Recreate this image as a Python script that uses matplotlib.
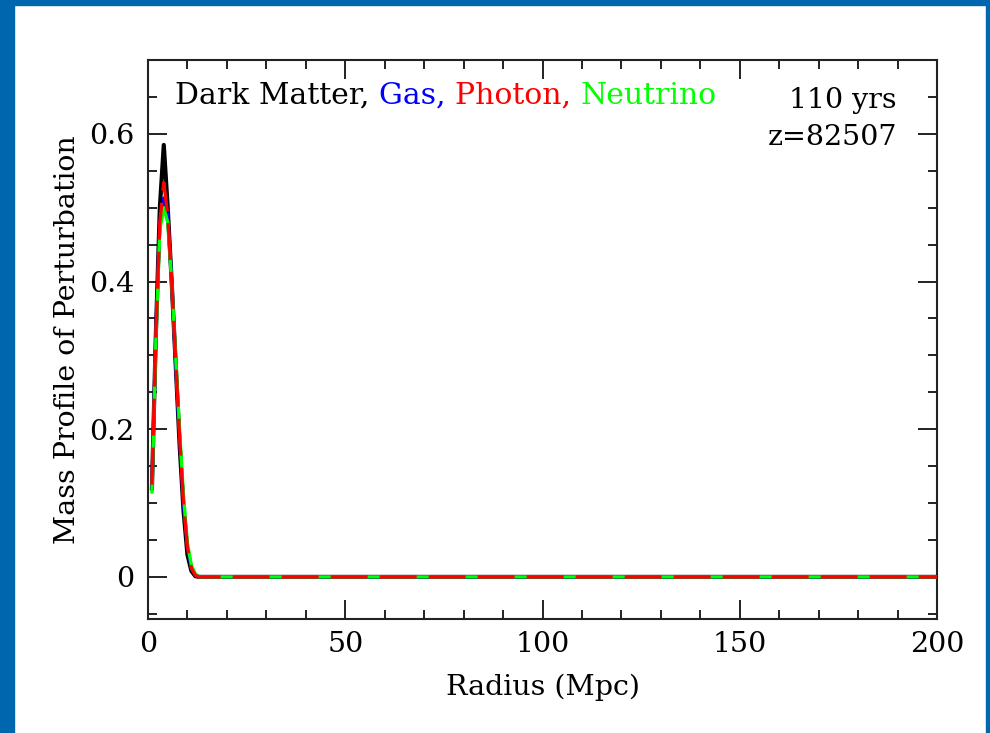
import matplotlib
matplotlib.use("Agg")
import matplotlib.pyplot as plt
from matplotlib.patches import Rectangle
from matplotlib.ticker import MultipleLocator

plt.rcParams['font.family'] = ['DejaVu Serif']

# Radius samples (Mpc)
radius = [1, 2, 3, 4, 5, 6, 7, 8, 9, 10, 11, 12, 13, 14, 200]
dark_matter = [0.12, 0.33, 0.50, 0.585, 0.50, 0.40, 0.29, 0.18, 0.09, 0.03, 0.008, 0.001, 0.0, 0.0, 0.0]
gas         = [0.12, 0.33, 0.48, 0.513, 0.49, 0.40, 0.29, 0.19, 0.10, 0.04, 0.012, 0.002, 0.0, 0.0, 0.0]
photon      = [0.125, 0.33, 0.48, 0.534, 0.49, 0.40, 0.295, 0.19, 0.10, 0.04, 0.012, 0.002, 0.0, 0.0, 0.0]
neutrino    = [0.115, 0.32, 0.47, 0.50, 0.48, 0.40, 0.30, 0.20, 0.11, 0.045, 0.016, 0.004, 0.0, 0.0, 0.0]

legend_items = [("Dark Matter, ", "black"), ("Gas, ", "blue"), ("Photon, ", "red"), ("Neutrino", "#00ff00")]
time_label = "110 yrs"
z_label = "z=82507"

FS = 20.5
W, H = 990, 733
fig = plt.figure(figsize=(W / 100, H / 100), dpi=100)
fig.patch.set_facecolor('white')

border = '#0066AD'
fig.patches.append(Rectangle((0, 0), 14 / W, 1, transform=fig.transFigure, color=border, zorder=0))
fig.patches.append(Rectangle((0, 1 - 5 / H), 1, 5 / H, transform=fig.transFigure, color=border, zorder=0))
fig.patches.append(Rectangle((1 - 4 / W, 0), 4 / W, 1, transform=fig.transFigure, color=border, zorder=0))

ax = fig.add_axes([148 / W, 1 - 619 / H, (937 - 148) / W, (619 - 60) / H])

lw = 2.4
ax.plot(radius, dark_matter, color='black', lw=lw + 0.6, zorder=3)
ax.plot(radius, gas, color='blue', lw=lw, zorder=4)
ax.plot(radius, neutrino, color='#00ff00', lw=lw, zorder=5)
ax.plot(radius, photon, color='red', lw=lw, zorder=6, dashes=(11.1, 3.6))

ax.set_xlim(0, 200)
ax.set_ylim(-0.057, 0.70)
ax.xaxis.set_major_locator(MultipleLocator(50))
ax.xaxis.set_minor_locator(MultipleLocator(10))
ax.yaxis.set_major_locator(MultipleLocator(0.2))
ax.yaxis.set_minor_locator(MultipleLocator(0.05))
ax.xaxis.set_major_formatter(plt.FuncFormatter(lambda v, p: f"{v:g}"))
ax.yaxis.set_major_formatter(plt.FuncFormatter(lambda v, p: "0" if abs(v) < 1e-9 else f"{v:.1f}"))

ax.tick_params(which='both', direction='in', top=True, right=True, width=1.4, color='#222222')
ax.tick_params(which='major', length=13.5, labelsize=FS)
ax.tick_params(axis='y', which='major', pad=10)
ax.tick_params(axis='x', which='major', pad=9)
ax.tick_params(which='minor', length=6.5)
for s in ax.spines.values():
    s.set_linewidth(1.5)
    s.set_color('#222222')

ax.set_xlabel("Radius (Mpc)", fontsize=FS, labelpad=11)
ax.set_ylabel("Mass Profile of Perturbation", fontsize=FS, labelpad=6)

# multicolor legend text
LFS = 21.5
prev = ax.text(27 / 789, 1 - 36 / 559, legend_items[0][0], color=legend_items[0][1],
               transform=ax.transAxes, fontsize=LFS, va='center', ha='left')
for txt, col in legend_items[1:]:
    prev = ax.annotate(txt, xycoords=prev, xy=(1, 0), va='bottom', ha='left',
                       color=col, fontsize=LFS)

ax.text(1 - 40 / 789, 1 - 40 / 559, time_label, transform=ax.transAxes, fontsize=FS,
        ha='right', va='center')
ax.text(1 - 40 / 789, 1 - 77 / 559, z_label, transform=ax.transAxes, fontsize=FS,
        ha='right', va='center')

fig.savefig("out.png", dpi=100, facecolor=fig.get_facecolor())
